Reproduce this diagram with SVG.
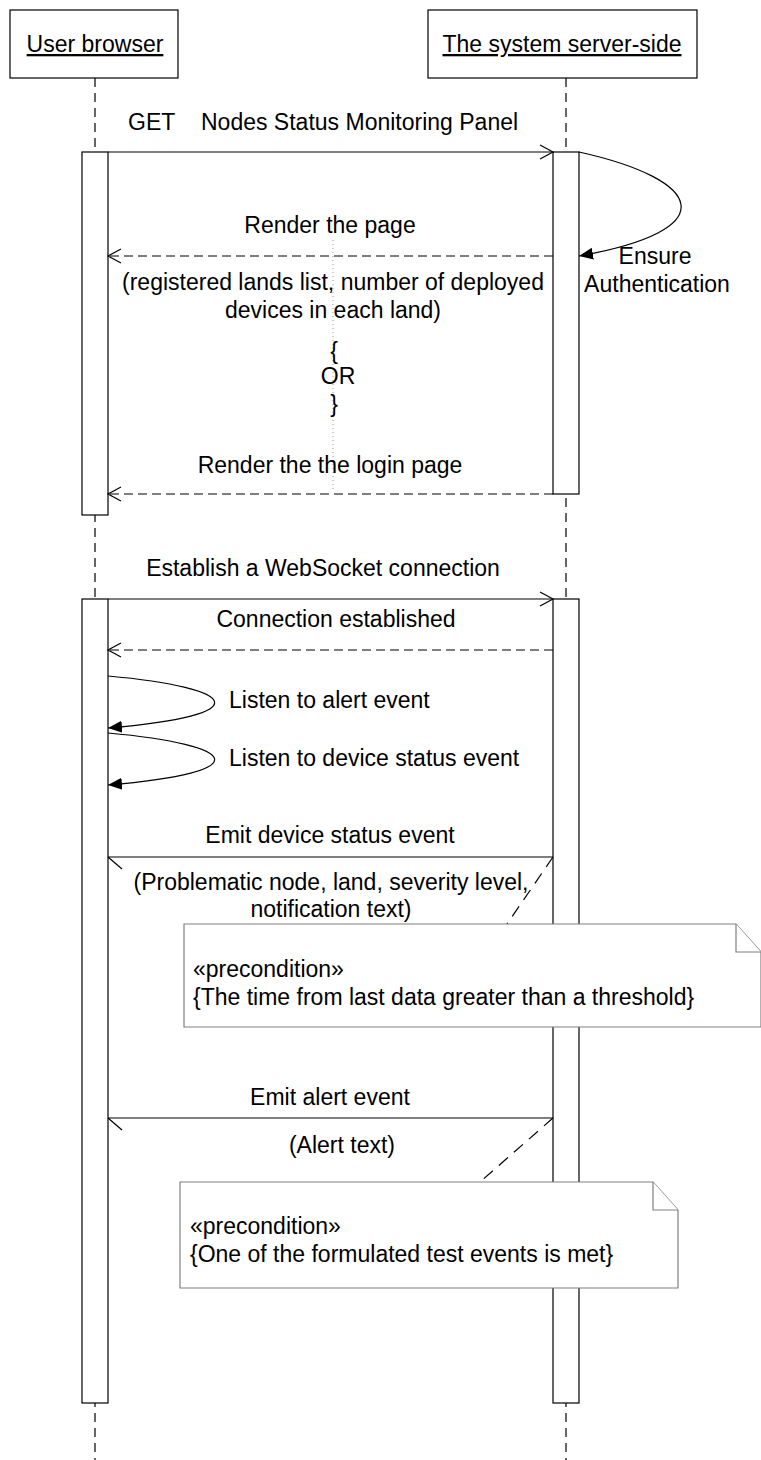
<svg xmlns="http://www.w3.org/2000/svg" width="761" height="1460" viewBox="0 0 761 1460">
<style>
text{font-family:"Liberation Sans",Arial,sans-serif;font-size:23px;fill:#000}
.m{text-anchor:middle}
.box{fill:#fff;stroke:#000;stroke-width:1.2}
.life{stroke:#000;stroke-width:1.2;stroke-dasharray:9,6;fill:none}
.act{fill:#fff;stroke:#000;stroke-width:1.2}
.msg{stroke:#000;stroke-width:1.2;fill:none}
.ret{stroke:#000;stroke-width:1.2;fill:none;stroke-dasharray:9,5}
.note{fill:#fff;stroke:#808080;stroke-width:1.2}
.link{stroke:#000;stroke-width:1.2;stroke-dasharray:12,8;fill:none}
.dot{stroke:#999;stroke-width:1;stroke-dasharray:1,3;fill:none}
</style>
<defs>
<marker id="open" markerWidth="16" markerHeight="16" refX="14" refY="8" orient="auto" markerUnits="userSpaceOnUse">
<path d="M1,1 L14,8 L1,15" fill="none" stroke="#000" stroke-width="1.2"/>
</marker>
<marker id="fill" markerWidth="16" markerHeight="16" refX="14" refY="8" orient="auto" markerUnits="userSpaceOnUse">
<path d="M0,2 L14,8 L0,14 Z" fill="#000"/>
</marker>
</defs>

<g id="lifelines">
<line class="life" x1="95" y1="78" x2="95" y2="1460"/>
<line class="life" x1="566" y1="78" x2="566" y2="1460"/>
</g>

<g id="user-browser">
<rect class="box" x="10" y="10" width="168" height="68"/>
<text class="m" x="95" y="52" text-decoration="underline">User browser</text>
</g>
<g id="server">
<rect class="box" x="428" y="10" width="269" height="68"/>
<text class="m" x="562" y="52" text-decoration="underline">The system server-side</text>
</g>

<g id="activations">
<rect class="act" x="82" y="152" width="26" height="363"/>
<rect class="act" x="553" y="152" width="26" height="342"/>
<rect class="act" x="82" y="599" width="26" height="804"/>
<rect class="act" x="553" y="599" width="26" height="804"/>
</g>

<g id="connectors">
<line class="msg" x1="108" y1="152" x2="553" y2="152" marker-end="url(#open)"/>
<path class="msg" d="M579,152 C705,180 725,230 579,256" marker-end="url(#fill)"/>
<line class="ret" x1="553" y1="256" x2="108" y2="256" marker-end="url(#open)"/>
<line class="dot" x1="333" y1="240" x2="333" y2="492"/>
<line class="ret" x1="553" y1="494" x2="108" y2="494" marker-end="url(#open)"/>
<line class="msg" x1="108" y1="599" x2="553" y2="599" marker-end="url(#open)"/>
<line class="ret" x1="553" y1="650" x2="108" y2="650" marker-end="url(#open)"/>
<path class="msg" d="M108,676 C240,688 260,715 108,728" marker-end="url(#fill)"/>
<path class="msg" d="M108,733 C240,745 260,772 108,785" marker-end="url(#fill)"/>
<line class="msg" x1="553" y1="857" x2="108" y2="857"/>
<path class="msg" d="M108,857 L122,869"/>
<line class="link" x1="553" y1="857" x2="507" y2="924"/>
<line class="msg" x1="553" y1="1118" x2="108" y2="1118"/>
<path class="msg" d="M108,1118 L122,1130"/>
<line class="link" x1="553" y1="1118" x2="480" y2="1182"/>
</g>

<g id="labels">
<text x="128" y="130">GET</text>
<text x="201" y="130">Nodes Status Monitoring Panel</text>
<text class="m" x="655" y="264">Ensure</text>
<text class="m" x="657" y="292">Authentication</text>
<text class="m" x="330" y="233">Render the page</text>
<text class="m" x="333" y="290">(registered lands list, number of deployed</text>
<text class="m" x="333" y="318">devices in each land)</text>
<text class="m" x="334" y="359">{</text>
<text class="m" x="338" y="384">OR</text>
<text class="m" x="334" y="412">}</text>
<text class="m" x="330" y="473">Render the the login page</text>
<text class="m" x="323" y="576">Establish a WebSocket connection</text>
<text class="m" x="336" y="627">Connection established</text>
<text x="229" y="708">Listen to alert event</text>
<text x="229" y="766">Listen to device status event</text>
<text class="m" x="330" y="843">Emit device status event</text>
<text class="m" x="331" y="890">(Problematic node, land, severity level,</text>
<text class="m" x="331" y="917">notification text)</text>
<text class="m" x="330" y="1105">Emit alert event</text>
<text class="m" x="342" y="1153">(Alert text)</text>
</g>

<g id="note1">
<path class="note" d="M184,924 L736,924 L761,952 L761,1027 L184,1027 Z"/>
<path class="note" d="M736,924 L736,952 L761,952" fill="none"/>
<text x="193" y="977">«precondition»</text>
<text x="193" y="1005">{The time from last data greater than a threshold}</text>
</g>
<g id="note2">
<path class="note" d="M180,1182 L653,1182 L678,1210 L678,1288 L180,1288 Z"/>
<path class="note" d="M653,1182 L653,1210 L678,1210" fill="none"/>
<text x="190" y="1234">«precondition»</text>
<text x="190" y="1262">{One of the formulated test events is met}</text>
</g>
</svg>
